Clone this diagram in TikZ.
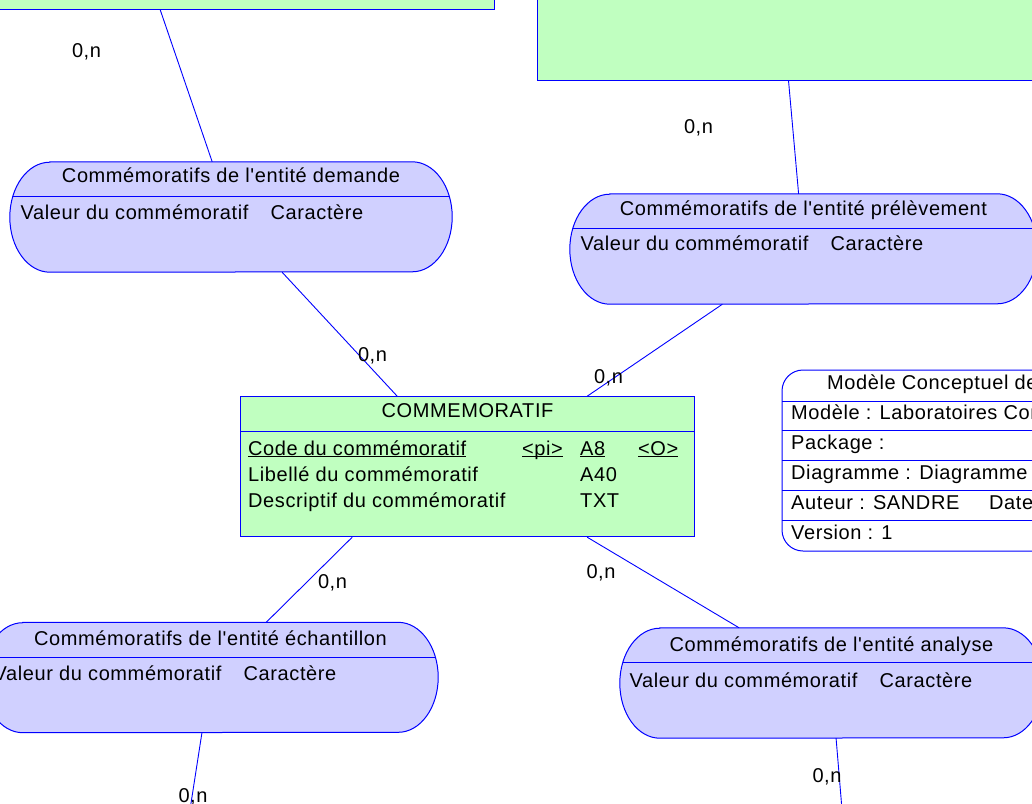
\documentclass[tikz,border=0pt]{standalone}
\usepackage{fontspec}
\setmainfont{Liberation Sans}[LetterSpace=3, Ligatures=TeXOff]
\usetikzlibrary{calc}

\definecolor{entfill}{RGB}{192,255,192}
\definecolor{asfill}{RGB}{208,208,255}
\definecolor{edge}{RGB}{0,0,255}

% underline at a fixed depth, the same for every word of a row
\newsavebox\ulbox
\newcommand\undl[1]{\sbox\ulbox{#1}\rlap{\rule[-2pt]{\wd\ulbox}{0.9pt}}\usebox\ulbox}

% association frame: rectangle with half-elliptic ends and a header rule
\newcommand\stadium[1]{%
  \draw[frame, fill=asfill] ($(#1.north west)+(40,0)$) -- ($(#1.north east)+(-40,0)$)
    arc[start angle=-90, end angle=90, x radius=40, y radius=55]
    -- ($(#1.south west)+(40,0)$)
    arc[start angle=90, end angle=270, x radius=40, y radius=55] -- cycle;
  \draw[frame] ($(#1.north west)+(2.7,35)$) -- ($(#1.north east)+(-2.7,35)$);}

\tikzset{
  frame/.style={draw=edge, line width=1pt},
  entity/.style={frame, fill=entfill, rectangle, inner sep=0pt},
  assoc/.style={rectangle, inner sep=0pt, minimum height=110},
  link/.style={draw=edge, line width=0.9pt},
  txt/.style={inner sep=0pt, anchor=base, font=\fontsize{20pt}{24pt}\selectfont},
  txtl/.style={txt, anchor=base west},
}

\begin{document}
\begin{tikzpicture}[x=1pt, y=-1pt]
\useasboundingbox (0,0) rectangle (1032,803);
\begin{scope}
\clip (0,0) rectangle (1032,803);

% entities
\node[entity, minimum width=716, minimum height=140] (ent1) at (136,-61) {};
\node[entity, minimum width=563, minimum height=180] (ent2) at (818.5,-10) {};
\node[entity, minimum width=400, minimum height=120] (ent3) at (176,900) {};
\node[entity, minimum width=400, minimum height=120] (ent4) at (849.5,900) {};

\node[entity, minimum width=453.6, minimum height=140] (commem) at (467.5,466.7) {};
\draw[frame] ($(commem.north west)+(0,35.3)$) -- ($(commem.north east)+(0,35.3)$);

% associations
\node[assoc, minimum width=442] (dem) at (231,217) {};
\node[assoc, minimum width=467] (prel) at (803.5,249) {};
\node[assoc, minimum width=455] (ech) at (210.5,677.5) {};
\node[assoc, minimum width=423] (ana) at (831.5,683) {};
\stadium{dem}
\stadium{prel}
\stadium{ech}
\stadium{ana}

% links
\draw[link] (ent1) -- (dem);
\draw[link] (prel) -- ([xshift=252pt]ent2.south west);
\draw[link] (dem) -- ([xshift=157pt]commem.north west);
\draw[link] (prel) -- ([xshift=347pt]commem.north west);
\draw[link] ([xshift=112pt]commem.south west) -- (ech);
\draw[link] ([xshift=347pt]commem.south west) -- (ana);
\draw[link] (ech) -- (ent3);
\draw[link] (ana) -- (ent4);

% entity text
\node[txt] (commemT) at (467.5,417.7) {COMMEMORATIF};
\node[txtl] (commemA) at (248,455) {\makebox[274pt][l]{\undl{Code du commémoratif}}\makebox[58pt][l]{\undl{<pi>}}\makebox[58pt][l]{\undl{A8}}\undl{<O>}};
\node[txtl] (commemB) at (248,481) {\makebox[332pt][l]{Libellé du commémoratif}A40};
\node[txtl] (commemC) at (248,507) {\makebox[332pt][l]{Descriptif du commémoratif}TXT};

% association text
\node[txt] (demT) at (231,182.7) {Commémoratifs de l'entité demande};
\node[txtl] (demA) at (20.5,219) {\makebox[250pt][l]{Valeur du commémoratif}Caractère};
\node[txt] (prelT) at (803.5,215) {Commémoratifs de l'entité prélèvement};
\node[txtl] (prelA) at (580.5,250.7) {\makebox[250pt][l]{Valeur du commémoratif}Caractère};
\node[txt] (echT) at (210.5,645) {Commémoratifs de l'entité échantillon};
\node[txtl] (echA) at (-6.5,680.7) {\makebox[250pt][l]{Valeur du commémoratif}Caractère};
\node[txt] (anaT) at (831.5,651.7) {Commémoratifs de l'entité analyse};
\node[txtl] (anaA) at (629.5,687) {\makebox[250pt][l]{Valeur du commémoratif}Caractère};

% cardinalities
\node[txt] (c1) at (86.5,57.5) {0,n};
\node[txt] (c2) at (698.5,133) {0,n};
\node[txt] (c3) at (372.5,361.7) {0,n};
\node[txt] (c4) at (608.5,383) {0,n};
\node[txt] (c5) at (332.5,588) {0,n};
\node[txt] (c6) at (601,578) {0,n};
\node[txt] (c7) at (193,802) {0,n};
\node[txt] (c8) at (827,782) {0,n};

% title block
\draw[frame, fill=white] (1200,370) [rounded corners=21pt] -- (782,370) -- (782,551) -- (1200,551);
\foreach \yy in {401,430,460,490,520} \draw[frame] (782,\yy) -- (1200,\yy);
\node[txtl] (tbA) at (827,389) {Modèle Conceptuel de Données};
\node[txtl] (tbB) at (791,419) {Modèle : Laboratoires Commémoratifs};
\node[txtl] (tbC) at (791,449) {Package :};
\node[txtl] (tbD) at (791,479) {Diagramme : Diagramme 1};
\node[txtl] (tbE) at (791,509) {\makebox[198pt][l]{Auteur : SANDRE}Date :};
\node[txtl] (tbF) at (791,539) {Version : 1};
\end{scope}
\end{tikzpicture}
\end{document}
